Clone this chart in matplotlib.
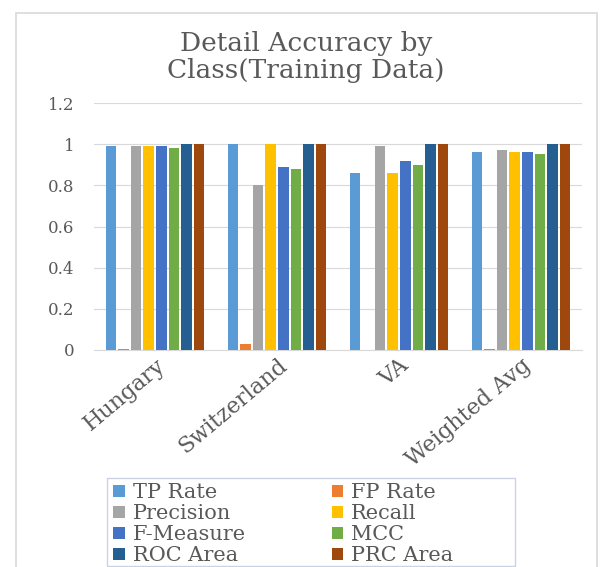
import numpy as np
import matplotlib
matplotlib.use("Agg")
from matplotlib import pyplot as plt
from matplotlib.patches import Rectangle

# Per-class metrics (training data)
categories = ["Hungary", "Switzerland", "VA", "Weighted Avg"]
tp_rate = [0.99, 1.00, 0.86, 0.96]
fp_rate = [0.005, 0.03, 0.0, 0.006]
precision = [0.99, 0.80, 0.99, 0.97]
recall = [0.99, 1.00, 0.86, 0.96]
f_measure = [0.99, 0.89, 0.92, 0.96]
mcc = [0.98, 0.88, 0.90, 0.95]
roc_area = [1.00, 1.00, 1.00, 1.00]
prc_area = [1.00, 1.00, 1.00, 1.00]

series_names = ["TP Rate", "FP Rate", "Precision", "Recall",
                "F-Measure", "MCC", "ROC Area", "PRC Area"]
series_values = [tp_rate, fp_rate, precision, recall,
                 f_measure, mcc, roc_area, prc_area]
colors = ["#5B9BD5", "#ED7D31", "#A5A5A5", "#FFC000",
          "#4472C4", "#70AD47", "#255E91", "#9E480E"]

yticks = [0, 0.2, 0.4, 0.6, 0.8, 1.0, 1.2]
ytick_labels = ["0", "0.2", "0.4", "0.6", "0.8", "1", "1.2"]

TEXT = "#595959"
GRID = "#d9d9d9"
plt.rcParams["font.family"] = ["DejaVu Serif"]

W, H = 612, 567
fig = plt.figure(figsize=(W / 100, H / 100), dpi=100)
ax = fig.add_axes([94 / W, 1 - 350 / H, 488 / W, 247 / H])

x = np.arange(len(categories))
n = len(series_names)
slot = 0.82 / n
bars = []
for i, (name, vals, c) in enumerate(zip(series_names, series_values, colors)):
    offs = (i - (n - 1) / 2) * slot
    b = ax.bar(x + offs, vals, width=slot * 0.84, color=c, linewidth=0,
               label=name, zorder=3)
    bars.append(b)

ax.set_xlim(-0.5, len(categories) - 0.5)
ax.set_ylim(0, 1.2)
ax.set_yticks(yticks)
ax.set_yticklabels(ytick_labels, fontsize=12, color=TEXT)
ax.set_xticks(x)
ax.set_xticklabels(categories, rotation=40, ha="right", va="top",
                   rotation_mode="anchor", fontsize=16, color=TEXT)
ax.tick_params(axis="both", length=0)
ax.tick_params(axis="y", pad=14)
ax.tick_params(axis="x", pad=3)
ax.grid(axis="y", color=GRID, linewidth=0.8, zorder=0)
for s in ["top", "right", "left"]:
    ax.spines[s].set_visible(False)
ax.spines["bottom"].set_color(GRID)

fig.text(306 / W, 1 - 57 / H, "Detail Accuracy by\nClass(Training Data)",
         ha="center", va="center", fontsize=19, color=TEXT, linespacing=1.15)

# outer chart border
fig.patches.append(Rectangle((16 / W, -0.05), 581 / W, 1 - 13 / H + 0.05,
                             transform=fig.transFigure, fill=False,
                             edgecolor=GRID, linewidth=1.2))
# legend box
fig.patches.append(Rectangle((107 / W, 1 / H), 408 / W, (567 - 478 - 1) / H,
                             transform=fig.transFigure, fill=False,
                             edgecolor="#c9d3e3", linewidth=1.0))

# legend filled row by row: two series per row
order = [0, 2, 4, 6, 1, 3, 5, 7]
leg = fig.legend([bars[i] for i in order], [series_names[i] for i in order],
                 loc="upper left", bbox_to_anchor=(109 / W, 1 - 479 / H),
                 ncol=2, fontsize=15, frameon=False,
                 handlelength=0.55, handleheight=0.55,
                 handletextpad=0.4, labelspacing=0.1, columnspacing=4.1,
                 borderpad=0.2, borderaxespad=0)
for t in leg.get_texts():
    t.set_color(TEXT)

fig.savefig("out.png", dpi=100)
